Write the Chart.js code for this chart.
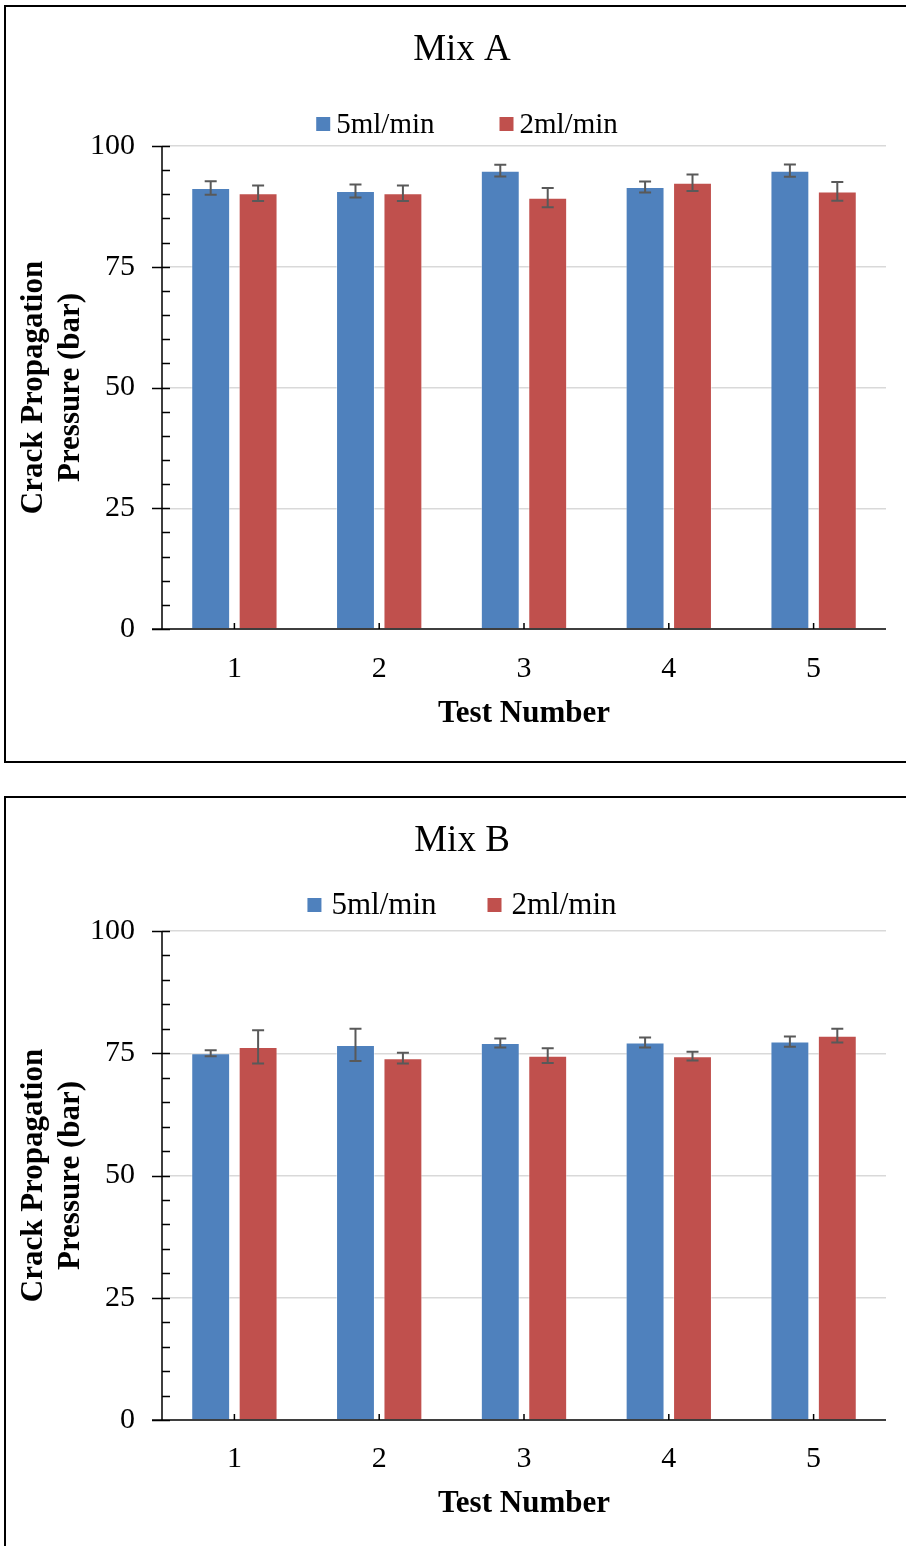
<!DOCTYPE html>
<html>
<head>
<meta charset="utf-8">
<script src="https://cdn.jsdelivr.net/npm/chart.js@4.4.1/dist/chart.umd.min.js"></script>
<style>
  html, body { margin: 0; padding: 0; background: #fff; overflow: hidden; }
  body { width: 906px; height: 1546px; position: relative; }
  canvas { position: absolute; left: 0; }
  .frame { position: absolute; left: 4px; width: 1000px; border: 2px solid #000; box-sizing: border-box; pointer-events: none; }
</style>
</head>
<body>
<canvas id="mixA" width="906" height="760" style="top:0"></canvas>
<canvas id="mixB" width="906" height="756" style="top:790px"></canvas>
<div class="frame" style="top:5px;height:758px"></div>
<div class="frame" style="top:796px;height:1000px"></div>
<script>
const tests = ['1', '2', '3', '4', '5'];
const seriesNames = ['5ml/min', '2ml/min'];
const yTicks = [0, 25, 50, 75, 100];

// Mix A
const mixA5 = [91.3, 90.7, 94.9, 91.5, 94.9];
const mixA5Err = [1.4, 1.35, 1.2, 1.15, 1.25];
const mixA2 = [90.2, 90.2, 89.3, 92.4, 90.6];
const mixA2Err = [1.6, 1.6, 2.0, 1.7, 1.95];

// Mix B
const mixB5 = [75.0, 76.7, 77.1, 77.2, 77.4];
const mixB5Err = [0.6, 3.3, 0.9, 1.0, 1.05];
const mixB2 = [76.3, 74.0, 74.5, 74.4, 78.6];
const mixB2Err = [3.4, 1.1, 1.5, 0.9, 1.4];

const BLUE = '#4f81bd';
const RED = '#c0504d';
const SERIF = "'Liberation Serif', 'Times New Roman', serif";

// error bars, drawn from each dataset's errors array
const errorBars = {
  id: 'errorBars',
  afterDatasetsDraw(chart) {
    const ctx = chart.ctx;
    const y = chart.scales.y;
    ctx.save();
    ctx.strokeStyle = '#595959';
    ctx.lineWidth = 2;
    chart.data.datasets.forEach((ds, i) => {
      chart.getDatasetMeta(i).data.forEach((bar, j) => {
        const v = ds.data[j], e = ds.errors[j];
        const top = y.getPixelForValue(v + e), bot = y.getPixelForValue(v - e);
        ctx.beginPath();
        ctx.moveTo(bar.x, top); ctx.lineTo(bar.x, bot);
        ctx.moveTo(bar.x - 6, top); ctx.lineTo(bar.x + 6, top);
        ctx.moveTo(bar.x - 6, bot); ctx.lineTo(bar.x + 6, bot);
        ctx.stroke();
      });
    });
    ctx.restore();
  }
};

// excel-like axes: minor ticks every 5, ticks inside
const axes = {
  id: 'axes',
  afterDatasetsDraw(chart) {
    const ctx = chart.ctx;
    const {left, right, top, bottom} = chart.chartArea;
    const x = chart.scales.x, y = chart.scales.y;
    ctx.save();
    ctx.strokeStyle = '#000';
    ctx.lineWidth = 1.5;
    ctx.beginPath();
    ctx.moveTo(left, top); ctx.lineTo(left, bottom);
    ctx.moveTo(left - 10, bottom); ctx.lineTo(right, bottom);
    for (let v = y.min; v <= y.max; v += 5) {
      const py = Math.round(y.getPixelForValue(v)) + 0.5;
      const major = v % 25 === 0;
      ctx.moveTo(major ? left - 10 : left, py);
      ctx.lineTo(left + 8, py);
    }
    tests.forEach((t, i) => {
      const px = x.getPixelForValue(i);
      ctx.moveTo(px, bottom); ctx.lineTo(px, bottom - 6);
    });
    ctx.stroke();
    ctx.restore();
  }
};

// title + legend drawn like the excel ones
const header = {
  id: 'header',
  afterDraw(chart, args, opts) {
    const ctx = chart.ctx;
    ctx.save();
    ctx.textBaseline = 'middle';
    ctx.textAlign = 'center';
    ctx.fillStyle = '#000';
    ctx.font = '37px ' + SERIF;
    ctx.fillText(opts.text, opts.tx, opts.ty);

    ctx.textAlign = 'left';
    ctx.font = opts.size + 'px ' + SERIF;
    const items = chart.data.datasets.map(ds => ({label: ds.label, color: ds.backgroundColor, w: ctx.measureText(ds.label).width}));
    let total = 0;
    items.forEach((it, i) => { total += opts.box + opts.gap + it.w + (i ? opts.spacing : 0); });
    let cx = opts.cx - total / 2;
    items.forEach((it, i) => {
      if (i) cx += opts.spacing;
      ctx.fillStyle = it.color;
      ctx.fillRect(cx, opts.cy - opts.box / 2, opts.box, opts.box);
      cx += opts.box + opts.gap;
      ctx.fillStyle = '#000';
      ctx.fillText(it.label, cx, opts.cy + 1);
      cx += it.w;
    });
    ctx.restore();
  }
};

function makeChart(id, title, s5, s5Err, s2, s2Err, lay) {
  return new Chart(document.getElementById(id), {
    type: 'bar',
    data: {
      labels: tests,
      datasets: [
        {label: seriesNames[0], data: s5, errors: s5Err, backgroundColor: BLUE, borderColor: 'rgba(255,255,255,0.45)', borderWidth: 1},
        {label: seriesNames[1], data: s2, errors: s2Err, backgroundColor: RED, borderColor: 'rgba(255,255,255,0.45)', borderWidth: 1}
      ]
    },
    options: {
      responsive: false,
      animation: false,
      layout: {padding: {left: 0, right: 20, top: lay.areaTop, bottom: 0}},
      datasets: {bar: {categoryPercentage: 0.655, barPercentage: 0.82}},
      plugins: {
        legend: {display: false},
        tooltip: {enabled: false},
        title: {display: false},
        header: Object.assign({text: title}, lay.header)
      },
      scales: {
        x: {
          grid: {display: false},
          border: {display: false},
          ticks: {color: '#000', font: {family: SERIF, size: 30, lineHeight: 1.2}, padding: lay.xTickPad},
          title: {display: true, text: 'Test Number', color: '#000',
            font: {family: SERIF, size: 31, weight: 'bold', lineHeight: 1.2},
            padding: {top: 0, bottom: lay.xTitlePad}},
          afterFit(s) { s.height = lay.xHeight; }
        },
        y: {
          min: 0, max: 100,
          afterBuildTicks(s) { s.ticks = yTicks.map(v => ({value: v})); },
          grid: {
            drawTicks: false,
            lineWidth: 1.5,
            color: c => c.tick && c.tick.value === 0 ? 'rgba(0,0,0,0)' : '#d9d9d9'
          },
          border: {display: false},
          ticks: {color: '#000', font: {family: SERIF, size: 30, lineHeight: 1.2}, padding: 27},
          title: {display: true, text: ['Crack Propagation', 'Pressure (bar)'], color: '#000',
            font: {family: SERIF, size: 31, weight: 'bold', lineHeight: 1.2},
            padding: {top: 15, bottom: 0}},
          afterFit(s) { s.width = 162; }
        }
      }
    },
    plugins: [errorBars, axes, header]
  });
}

makeChart('mixA', 'Mix A', mixA5, mixA5Err, mixA2, mixA2Err, {
  areaTop: 146, xHeight: 131, xTickPad: 14, xTitlePad: 27.4,
  header: {tx: 462, ty: 50, cx: 467, cy: 124, size: 29, box: 14, gap: 6, spacing: 65}
});
makeChart('mixB', 'Mix B', mixB5, mixB5Err, mixB2, mixB2Err, {
  areaTop: 141, xHeight: 126, xTickPad: 13, xTitlePad: 23.4,
  header: {tx: 462, ty: 51, cx: 462, cy: 115, size: 31, box: 14, gap: 10, spacing: 51}
});
</script>
</body>
</html>
